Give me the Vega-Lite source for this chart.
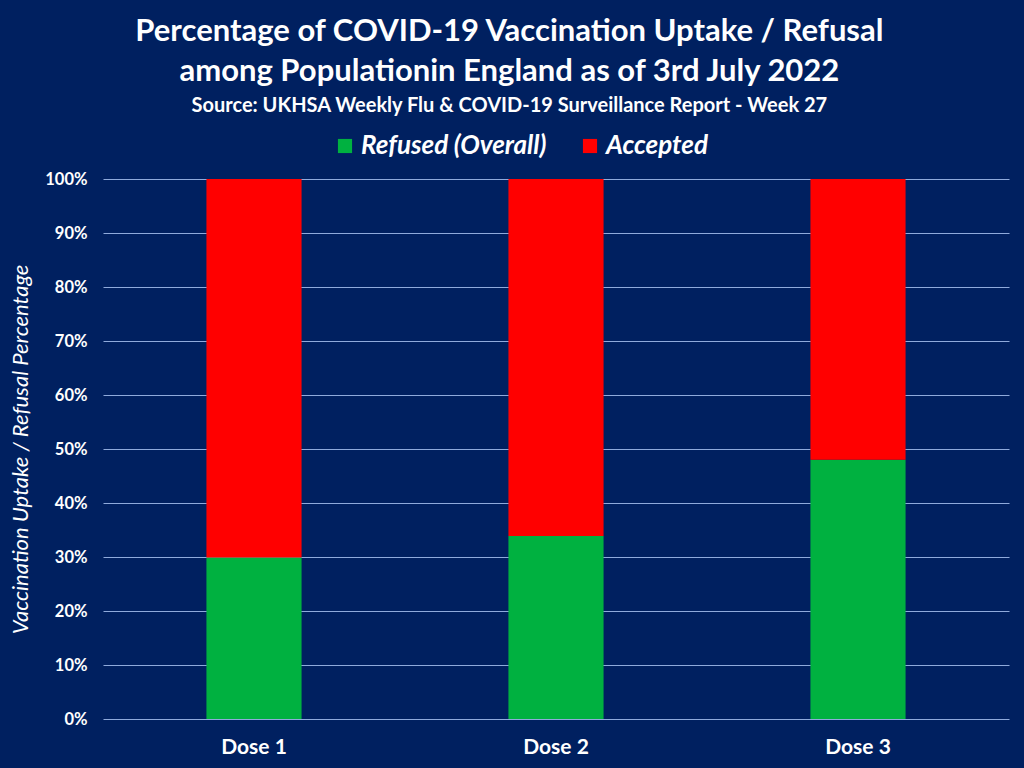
{
  "$schema": "https://vega.github.io/schema/vega-lite/v6.json",
  "autosize": {"type": "none"},
  "width": 906,
  "height": 540,
  "padding": {"left": 103, "top": 179, "right": 15, "bottom": 49},
  "background": "#002060",
  "title": {
    "text": ["Percentage of COVID-19 Vaccination Uptake / Refusal", "among Populationin England as of 3rd July 2022"],
    "subtitle": "Source: UKHSA Weekly Flu & COVID-19 Surveillance Report - Week 27",
    "frame": "bounds",
    "anchor": "middle",
    "font": "Lato",
    "fontSize": 31,
    "fontWeight": "bold",
    "color": "white",
    "lineHeight": 40,
    "subtitleFont": "Lato",
    "subtitleFontSize": 20,
    "subtitleFontWeight": "bold",
    "subtitleColor": "white",
    "subtitlePadding": 8,
    "offset": 16
  },
  "data": {
    "values": [
      {"Dose": "Dose 1", "Status": "Refused (Overall)", "Share": 0.299},
      {"Dose": "Dose 1", "Status": "Accepted", "Share": 0.701},
      {"Dose": "Dose 2", "Status": "Refused (Overall)", "Share": 0.339},
      {"Dose": "Dose 2", "Status": "Accepted", "Share": 0.661},
      {"Dose": "Dose 3", "Status": "Refused (Overall)", "Share": 0.48},
      {"Dose": "Dose 3", "Status": "Accepted", "Share": 0.52}
    ]
  },
  "mark": "bar",
  "encoding": {
    "x": {
      "field": "Dose",
      "type": "nominal",
      "title": null,
      "scale": {"paddingInner": 0.685, "paddingOuter": 0.3425},
      "axis": {"labelAngle": 0, "labelFont": "Lato", "labelFontSize": 21, "labelFontWeight": "bold", "labelColor": "white", "labelPadding": 17, "ticks": false, "domain": false}
    },
    "y": {
      "field": "Share",
      "type": "quantitative",
      "stack": "zero",
      "scale": {"domain": [0, 1]},
      "title": "Vaccination Uptake / Refusal Percentage",
      "axis": {
        "format": "%",
        "values": [0, 0.1, 0.2, 0.3, 0.4, 0.5, 0.6, 0.7, 0.8, 0.9, 1],
        "labelOverlap": false,
        "labelFont": "Lato", "labelFontSize": 16.5, "labelFontWeight": "bold", "labelColor": "white", "labelPadding": 16,
        "ticks": false, "domain": false,
        "grid": true, "gridColor": "#8faadc", "gridWidth": 1,
        "titleFont": "Lato", "titleFontSize": 22, "titleFontStyle": "italic", "titleFontWeight": "normal", "titleColor": "white", "titlePadding": 12
      }
    },
    "color": {
      "field": "Status",
      "type": "nominal",
      "sort": ["Refused (Overall)", "Accepted"],
      "scale": {"domain": ["Refused (Overall)", "Accepted"], "range": ["#00b140", "#ff0000"]},
      "legend": {
        "title": null,
        "orient": "none",
        "direction": "horizontal",
        "legendX": 229,
        "legendY": -46,
        "padding": 0,
        "symbolType": "square",
        "symbolSize": 200,
        "symbolStrokeWidth": 0,
        "symbolOpacity": 1,
        "labelFont": "Lato",
        "labelFontSize": 26,
        "labelFontStyle": "italic",
        "labelFontWeight": "bold",
        "labelColor": "white",
        "labelLimit": 400,
        "columnPadding": 30,
        "labelOffset": 3
      }
    },
    "order": {"field": "Status", "sort": "descending"}
  },
  "config": {"view": {"stroke": null}}
}
